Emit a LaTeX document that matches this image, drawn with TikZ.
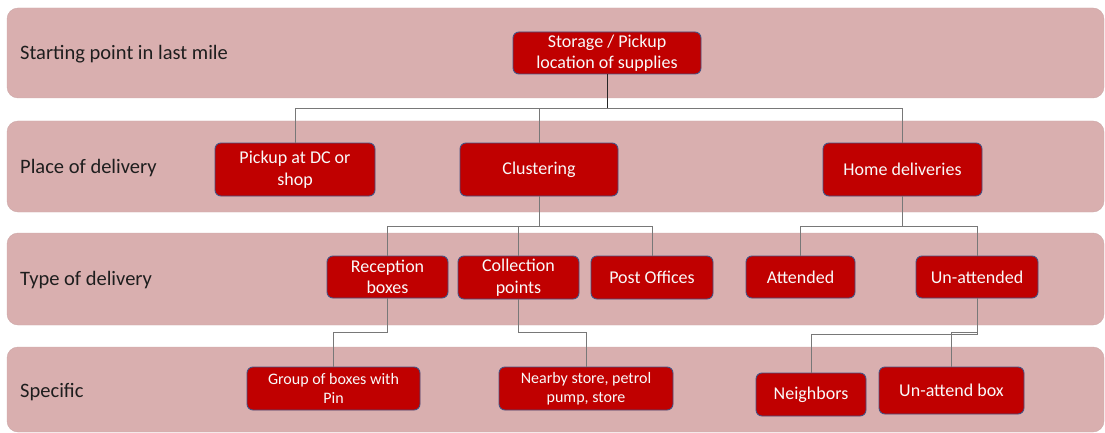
\documentclass[tikz,border=0pt]{standalone}
\usepackage{fontspec}
\setmainfont{Carlito}
\usetikzlibrary{calc}

\definecolor{bandfill}{RGB}{217,175,175}
\definecolor{boxfill}{RGB}{192,0,0}
\definecolor{boxedge}{RGB}{70,82,130}
\definecolor{linkgray}{RGB}{120,120,120}
\definecolor{labeltext}{RGB}{30,30,30}

\tikzset{
  band/.style={fill=bandfill, draw=bandfill!85!gray, line width=0.4pt, rounded corners=11pt},
  bandlabel/.style={anchor=west, text=labeltext, font=\fontsize{20.5}{24}\selectfont, inner sep=0pt},
  redbox/.style={fill=boxfill, draw=boxedge, line width=0.9pt, rounded corners=6pt,
    text=white!95!gray, align=center, inner sep=0pt,
    font=\fontsize{18}{21.5}\selectfont},
  smallbox/.style={redbox, font=\fontsize{16}{19}\selectfont},
  conn/.style={draw=linkgray, line width=0.9pt},
  topconn/.style={draw=black!85, line width=0.9pt}
}

\begin{document}
\begin{tikzpicture}[x=1pt, y=-1pt]
  \useasboundingbox (0,0) rectangle (1105,433);

  % background bands
  \path[band] (7,8) rectangle (1104,98);
  \path[band] (7,121) rectangle (1104,212);
  \path[band] (7,233) rectangle (1104,325);
  \path[band] (7,347) rectangle (1104,432);

  \node[bandlabel] (lab1) at (20,54.5) {Starting point in last mile};
  \node[bandlabel] (lab2) at (20,168.5) {Place of delivery};
  \node[bandlabel] (lab3) at (20,280.5) {Type of delivery};
  \node[bandlabel] (lab4) at (20,392.5) {Specific};

  % bus levels for the elbow connectors
  \coordinate (bus1) at (0,108);
  \coordinate (bus2) at (0,226);
  \coordinate (bus3) at (0,332);
  \coordinate (bus4) at (0,334);

  % level 1
  \node[redbox, minimum width=188pt, minimum height=42pt] (store) at (607,53)
    {Storage / Pickup\\location of supplies};

  % level 2
  \node[redbox, minimum width=160pt, minimum height=53pt] (pickup) at (295,169.5)
    {Pickup at DC or\\shop};
  \node[redbox, minimum width=158pt, minimum height=53pt] (clus) at (539,169.5)
    {Clustering};
  \node[redbox, minimum width=159pt, minimum height=53pt] (home) at (902.5,169.5)
    {Home deliveries};

  % level 3
  \node[redbox, minimum width=121pt, minimum height=42pt] (recep) at (387.5,277)
    {Reception\\boxes};
  \node[redbox, minimum width=121pt, minimum height=43pt] (coll) at (518.5,277.5)
    {Collection\\points};
  \node[redbox, minimum width=122pt, minimum height=43pt] (post) at (652,277.5)
    {Post Offices};
  \node[redbox, minimum width=109pt, minimum height=42pt] (att) at (800.5,277)
    {Attended};
  \node[redbox, minimum width=122pt, minimum height=42pt] (unatt) at (977,277)
    {Un-attended};

  % level 4
  \node[smallbox, minimum width=173pt, minimum height=43pt] (group) at (333.5,388.5)
    {Group of boxes with\\Pin};
  \node[smallbox, minimum width=174pt, minimum height=43pt] (near) at (586,388.5)
    {Nearby store, petrol\\pump, store};
  \node[redbox, minimum width=110pt, minimum height=43pt] (neigh) at (811,394.5)
    {Neighbors};
  \node[redbox, minimum width=145pt, minimum height=47pt] (ubox) at (951.5,390.5)
    {Un-attend box};

  % elbow connectors between levels
  \draw[topconn] (store.south) -- (store.south |- bus1);
  \draw[conn] (store.south |- bus1) -| (pickup.north);
  \draw[conn] (store.south |- bus1) -| (clus.north);
  \draw[conn] (store.south |- bus1) -| (home.north);

  \draw[conn] (clus.south) |- (recep.north |- bus2) -- (recep.north);
  \draw[conn] (clus.south) |- (coll.north |- bus2) -- (coll.north);
  \draw[conn] (clus.south) |- (post.north |- bus2) -- (post.north);

  \draw[conn] (home.south) |- (att.north |- bus2) -- (att.north);
  \draw[conn] (home.south) |- (unatt.north |- bus2) -- (unatt.north);

  \draw[conn] (recep.south) |- (group.north |- bus3) -- (group.north);
  \draw[conn] (coll.south) |- (near.north |- bus3) -- (near.north);

  \draw[conn] (unatt.south) |- (neigh.north |- bus4) -- (neigh.north);
  \draw[conn] (unatt.south) |- (ubox.north |- bus3) -- (ubox.north);
\end{tikzpicture}
\end{document}
